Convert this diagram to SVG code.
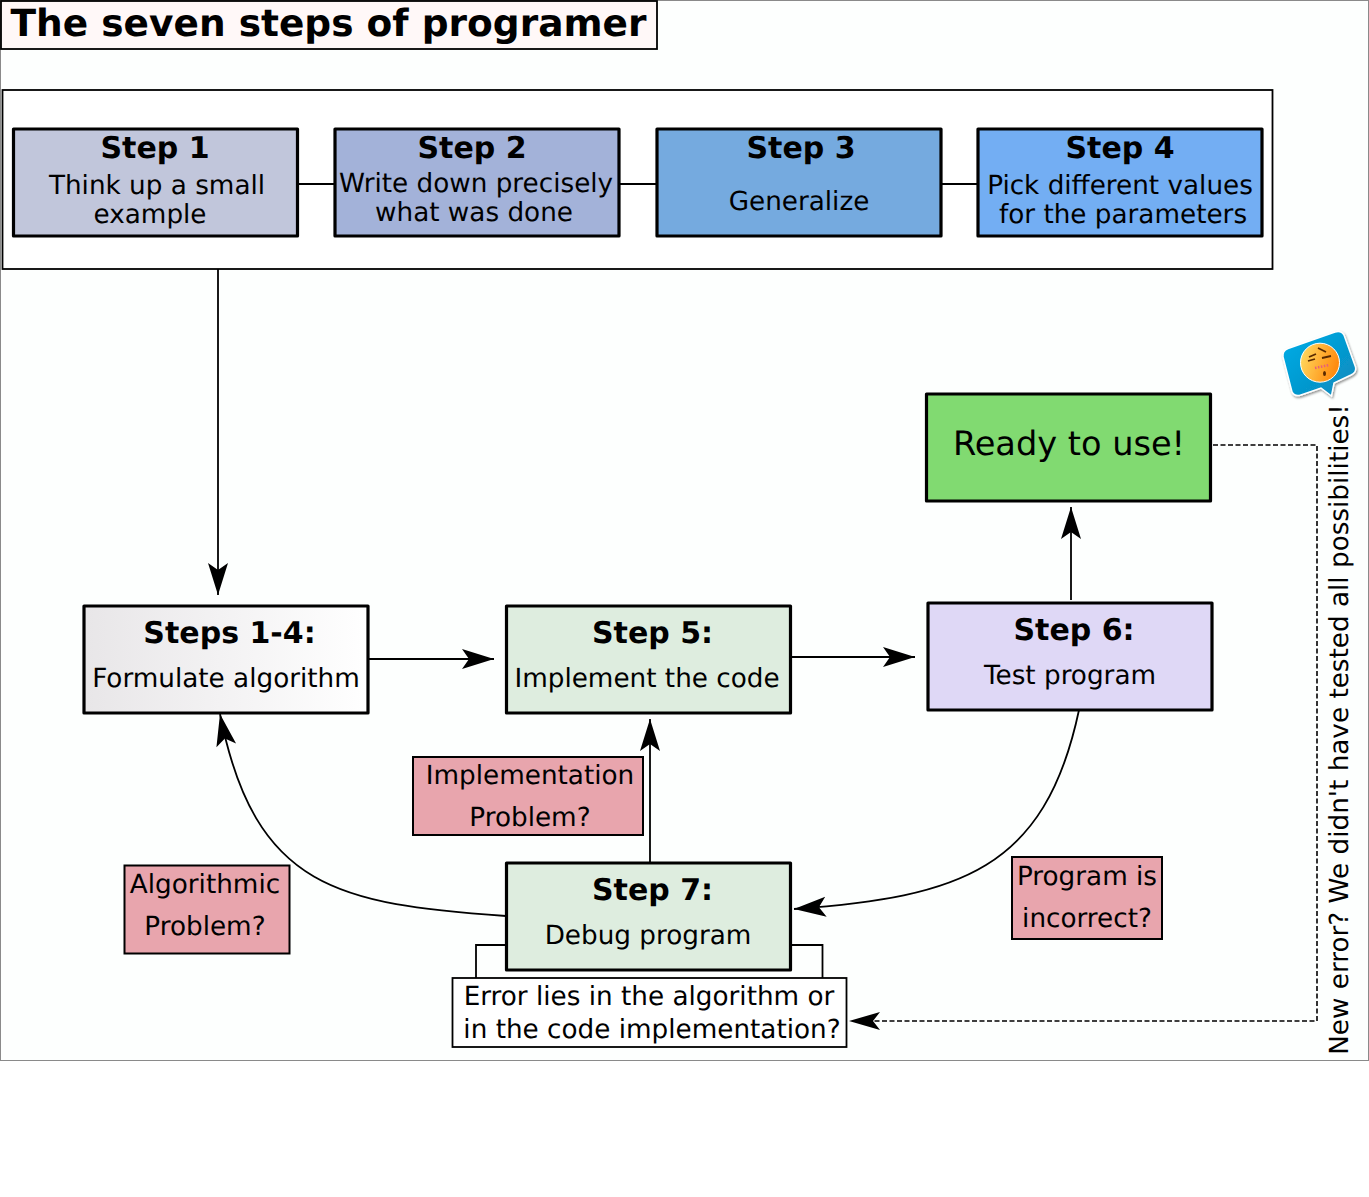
<svg xmlns="http://www.w3.org/2000/svg" width="1369" height="1197" viewBox="0 0 1369 1197">
<style>
text{font-family:"DejaVu Sans",sans-serif;fill:#000;text-anchor:middle;text-rendering:geometricPrecision}
.h{font-weight:bold;font-size:30px}
.b{font-size:26.250px}
.n{stroke:#000;stroke-width:3.200;stroke-linejoin:round}
.p{fill:#e8a5ad;stroke:#000;stroke-width:2}
.c{fill:none;stroke:#000;stroke-width:1.800}
.a{fill:none;stroke:#000;stroke-width:1.800;marker-end:url(#arr)}
.d{fill:none;stroke:#000;stroke-width:1.600;stroke-dasharray:5 2.500}
</style>
<defs>
<marker id="arr" markerUnits="userSpaceOnUse" markerWidth="36" markerHeight="24" refX="32" refY="10" orient="auto" overflow="visible">
<path d="M0,0 L32,10 L0,20 L7,10 Z" fill="#000"/>
</marker>
<linearGradient id="g14"><stop offset="0" stop-color="#e8e6e8"/><stop offset="1" stop-color="#ffffff"/></linearGradient>
<linearGradient id="gf" x1="0" y1="0" x2="1" y2="0.3"><stop offset="0" stop-color="#ffe066"/><stop offset="1" stop-color="#ff8c10"/></linearGradient>
<linearGradient id="gb" x1="0" y1="0" x2="1" y2="1"><stop offset="0" stop-color="#00aee8"/><stop offset="1" stop-color="#0a88bb"/></linearGradient>
<filter id="sh" x="-20%" y="-20%" width="140%" height="140%"><feDropShadow dx="1" dy="1.500" stdDeviation="1.200" flood-color="#000" flood-opacity=".45"/></filter>
</defs>
<rect id="background" x="0.500" y="0.500" width="1368" height="1060" fill="#fdfffe" stroke="#8a8a8a" stroke-width="1"/>
<g id="title"><rect x="1" y="1" width="656" height="48" fill="#fff8f8" stroke="#000" stroke-width="1.800"/>
<text x="328.500" y="36" style="font-weight:bold;font-size:37.500px">The seven steps of programer</text></g>
<g id="steps-1-4-frame"><rect x="2.500" y="90" width="1270" height="179" fill="#fff" stroke="#000" stroke-width="1.800"/></g>
<g id="connectors">
<path class="c" d="M298,184H335M619,184H657M941,184H978"/>
<path class="a" d="M218,269V595"/>
<path class="a" d="M368,659H494"/>
<path class="a" d="M791,657H915"/>
<path class="a" d="M1071,600V507"/>
<path class="a" d="M650,863V719"/>
<path class="a" d="M506,916C340,904 255,890 220,714"/>
<path class="a" d="M1079,710C1045,870 960,897 794,909"/>
<path class="c" d="M506,945H476V978M791,945H822.500V978"/>
<path class="d" d="M1213,445H1317V1021H860"/>
<path d="M880,1012L849,1021L880,1030L873,1021Z" fill="#000"/>
</g>
<g id="step1"><rect class="n" x="13.500" y="129" width="284" height="107" fill="#c1c6db"/>
<text class="h" x="155" y="158">Step 1</text><text class="b" x="157" y="194">Think up a small</text><text class="b" x="150" y="223">example</text></g>
<g id="step2"><rect class="n" x="335" y="129" width="284" height="107" fill="#a3b2d9"/>
<text class="h" x="472" y="158">Step 2</text><text class="b" x="476" y="192">Write down precisely</text><text class="b" x="474" y="221">what was done</text></g>
<g id="step3"><rect class="n" x="657" y="129" width="284" height="107" fill="#75aadf"/>
<text class="h" x="801" y="158">Step 3</text><text class="b" x="799" y="210">Generalize</text></g>
<g id="step4"><rect class="n" x="978" y="129" width="284" height="107" fill="#73aef3"/>
<text class="h" x="1120" y="158">Step 4</text><text class="b" x="1120" y="194">Pick different values</text><text class="b" x="1123" y="223">for the parameters</text></g>
<g id="steps14"><rect class="n" x="84" y="606" width="284" height="107" fill="url(#g14)"/>
<text class="h" x="229.500" y="643">Steps 1-4:</text><text class="b" x="226" y="687">Formulate algorithm</text></g>
<g id="step5"><rect class="n" x="506.500" y="606" width="284" height="107" fill="#deeddf"/>
<text class="h" x="652.500" y="643">Step 5:</text><text class="b" x="647" y="687">Implement the code</text></g>
<g id="step6"><rect class="n" x="928" y="603" width="284" height="107" fill="#dfd8f6"/>
<text class="h" x="1074" y="640">Step 6:</text><text class="b" x="1070" y="684">Test program</text></g>
<g id="step7"><rect class="n" x="506.500" y="863" width="284" height="107" fill="#deeddf"/>
<text class="h" x="652.500" y="900">Step 7:</text><text class="b" x="648" y="944">Debug program</text></g>
<g id="ready"><rect class="n" x="926.500" y="394" width="284" height="107" fill="#81da71"/>
<text x="1069" y="455" style="font-size:33.600px">Ready to use!</text></g>
<g id="impl-problem"><rect class="p" x="413" y="757" width="230" height="78"/>
<text class="b" x="530" y="784">Implementation</text><text class="b" x="530" y="826">Problem?</text></g>
<g id="alg-problem"><rect class="p" x="124.500" y="865.500" width="165" height="88"/>
<text class="b" x="205" y="893">Algorithmic</text><text class="b" x="205" y="935">Problem?</text></g>
<g id="incorrect"><rect class="p" x="1012" y="857" width="150" height="82"/>
<text class="b" x="1087" y="885">Program is</text><text class="b" x="1087" y="927">incorrect?</text></g>
<g id="error-question"><rect x="452.500" y="978" width="394" height="69" fill="#fff" stroke="#000" stroke-width="1.800"/>
<text class="b" x="649" y="1005">Error lies in the algorithm or</text><text class="b" x="652" y="1038">in the code implementation?</text></g>
<g id="retest-label"><text class="b" transform="translate(1348,729.500) rotate(-90)">New error? We didn't have tested all possibilities!</text></g>
<g id="emoji">
<path d="M1288,348.500L1335,332Q1341,330 1344,335L1355.500,367Q1357,372 1351,375L1334,383L1331.500,396L1321,388L1301,395Q1295,397 1292,392L1283,357Q1282,351 1288,348.500Z" fill="url(#gb)" stroke="#fff" stroke-width="1.500" filter="url(#sh)"/>
<circle cx="1320" cy="362.700" r="19.500" fill="url(#gf)" stroke="#fff" stroke-width="1"/>
<path d="M1309,357L1316,354M1318,348L1326,352M1322,358L1331,356M1308,361L1315,359" stroke="#5a2a00" stroke-width="1.800" fill="none"/>
<path d="M1315,368L1329,365" stroke="#e8607a" stroke-width="2.500" stroke-dasharray="1.500 1.500" fill="none"/>
<ellipse cx="1324.500" cy="373.500" rx="1.500" ry="2.500" fill="#5a2a00"/>
</g>
</svg>
